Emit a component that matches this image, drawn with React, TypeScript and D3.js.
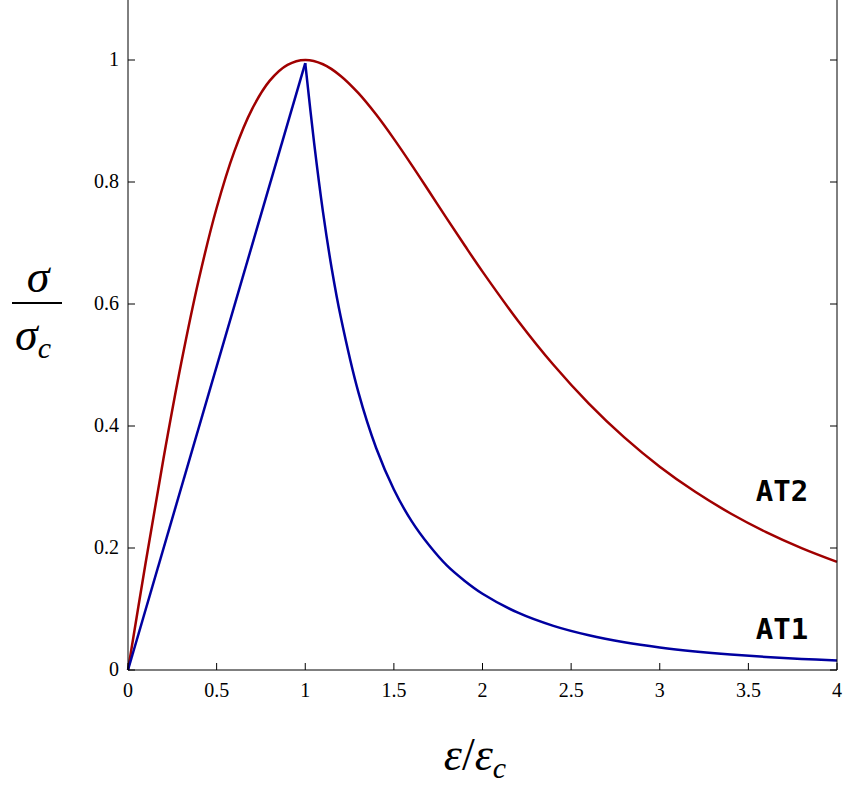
import React from "react";
import * as d3 from "d3";

const at2X = [0,0.1,0.2,0.3,0.4,0.5,0.6,0.7,0.8,0.9,1.0,1.1,1.2,1.3,1.4,1.5,1.6,1.7,1.8,1.9,2.0,2.2,2.4,2.6,2.8,3.0,3.2,3.4,3.6,3.8,4.0];
const at2Y = [0,0.1766,0.3463,0.5027,0.6409,0.7574,0.8503,0.9195,0.9661,0.992,1,0.993,0.9739,0.9456,0.9105,0.8707,0.8281,0.784,0.7396,0.6958,0.6531,0.5727,0.5004,0.4367,0.3813,0.3333,0.2921,0.2566,0.2261,0.1999,0.1773];
const at1RiseX = [0,1];
const at1RiseY = [0,0.995];
const at1X = [1,1.05,1.1,1.15,1.2,1.3,1.4,1.5,1.6,1.7,1.8,1.9,2.0,2.2,2.4,2.6,2.8,3.0,3.2,3.4,3.6,3.8,4.0];
const at1Y = [0.995,0.864,0.751,0.657,0.579,0.455,0.364,0.296,0.244,0.204,0.171,0.146,0.125,0.0939,0.0723,0.0569,0.0455,0.037,0.0305,0.0254,0.0214,0.0182,0.0156];
const xTicks = [0,0.5,1,1.5,2,2.5,3,3.5,4];
const yTicks = [0,0.2,0.4,0.6,0.8,1];

export default function App() {
  const x = d3.scaleLinear().domain([0, 4]).range([128, 837]);
  const y = d3.scaleLinear().domain([0, 1]).range([670, 60]);
  const top = y(1.1);
  const line = d3.line<[number, number]>().x(d => x(d[0])).y(d => y(d[1]));
  const smooth = d3.line<[number, number]>().x(d => x(d[0])).y(d => y(d[1])).curve(d3.curveCatmullRom);
  const zip = (a: number[], b: number[]) => a.map((v, i) => [v, b[i]] as [number, number]);
  const serif = { fontFamily: "Liberation Serif, Times New Roman, serif" };
  const mono = { fontFamily: "DejaVu Sans Mono, monospace" };
  return (
    <svg width={846} height={791} style={{ position: "absolute", left: 0, top: 0, background: "#fff" }}>
      <path d={smooth(zip(at2X, at2Y))!} fill="none" stroke="#a00000" strokeWidth={2.5} />
      <path d={line(zip(at1RiseX, at1RiseY))!} fill="none" stroke="#0000a0" strokeWidth={2.5} />
      <path d={smooth(zip(at1X, at1Y))!} fill="none" stroke="#0000a0" strokeWidth={2.5} />
      <line x1={x(0)} x2={x(0)} y1={top} y2={y(0)} stroke="#000" strokeWidth={1} />
      <line x1={x(4)} x2={x(4)} y1={top} y2={y(0)} stroke="#000" strokeWidth={1} />
      <line x1={x(0)} x2={x(4)} y1={y(0)} y2={y(0)} stroke="#000" strokeWidth={1} />
      {xTicks.map(t => (
        <g key={"x" + t}>
          <line x1={x(t)} x2={x(t)} y1={y(0)} y2={y(0) - 7} stroke="#000" />
          <text x={x(t)} y={y(0) + 27} textAnchor="middle" style={serif} fontSize={20}>{t}</text>
        </g>
      ))}
      {yTicks.map(t => (
        <g key={"y" + t}>
          <line x1={x(0)} x2={x(0) + 7} y1={y(t)} y2={y(t)} stroke="#000" />
          <line x1={x(4)} x2={x(4) - 7} y1={y(t)} y2={y(t)} stroke="#000" />
          <text x={x(0) - 9} y={y(t) + 6} textAnchor="end" style={serif} fontSize={20}>{t}</text>
        </g>
      ))}
      <text x={782} y={501} textAnchor="middle" style={mono} fontWeight="bold" fontSize={29}>AT2</text>
      <text x={782} y={639} textAnchor="middle" style={mono} fontWeight="bold" fontSize={29}>AT1</text>
      <text x={38} y={292} textAnchor="middle" style={serif} fontStyle="italic" fontSize={46}>σ</text>
      <line x1={12} x2={62} y1={303} y2={303} stroke="#000" strokeWidth={2} />
      <text x={33} y={350} textAnchor="middle" style={serif} fontStyle="italic" fontSize={46}>σ<tspan fontSize={30} dy={8}>c</tspan></text>
      <text x={475} y={770} textAnchor="middle" style={serif} fontStyle="italic" fontSize={46}>ε<tspan fontStyle="normal">/</tspan>ε<tspan fontSize={30} dy={8}>c</tspan></text>
    </svg>
  );
}
